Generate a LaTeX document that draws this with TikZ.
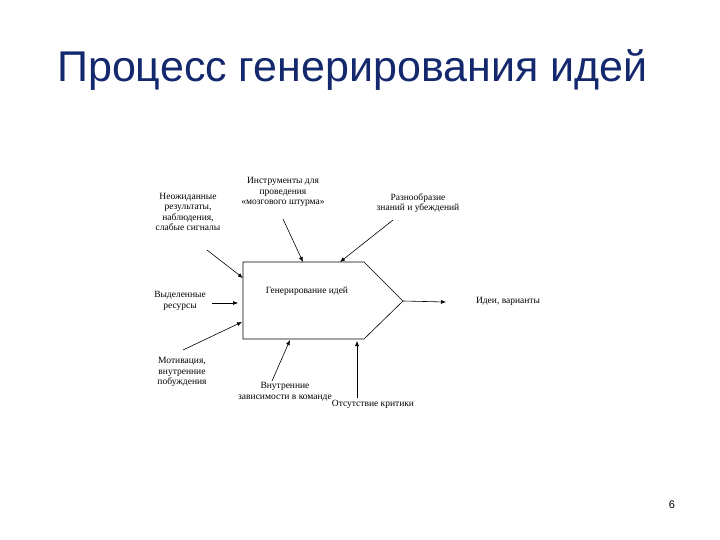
\documentclass[tikz,border=0pt]{standalone}
\usepackage{fontspec}
\setmainfont{Liberation Serif}
\newfontfamily\titlefont{Liberation Sans}
\usetikzlibrary{arrows.meta}
\definecolor{titleblue}{RGB}{20,40,110}
\begin{document}
\begin{tikzpicture}[x=1pt,y=-1pt,
  lbl/.style={font=\fontsize{9.5}{10.5}\selectfont,align=center,inner sep=0pt},
  arr/.style={-{Latex[length=5pt,width=4pt]},line width=0.6pt}]
\useasboundingbox (0,0) rectangle (720,540);
\node[font=\titlefont\fontsize{43}{50}\selectfont,text=titleblue,anchor=west,inner sep=0pt] (title) at (57,70) {Процесс генерирования идей};
\node[font=\titlefont\fontsize{11}{13}\selectfont] (num) at (672,505) {6};
\draw[line width=0.6pt] (243,262) -- (364,262) -- (403,301) -- (364,339) -- (243,339) -- cycle;
\node[lbl] (box) at (307,291) {Генерирование идей};
\coordinate (tip) at (403,301);
\node[lbl] (a) at (188,212) {Неожиданные\\результаты,\\наблюдения,\\слабые сигналы};
\node[lbl] (b) at (283,192) {Инструменты для\\проведения\\«мозгового штурма»};
\node[lbl] (c) at (418,203) {Разнообразие\\знаний и убеждений};
\node[lbl] (d) at (180,301) {Выделенные\\ресурсы};
\node[lbl] (e) at (182,372) {Мотивация,\\внутренние\\побуждения};
\node[lbl] (f) at (285,392) {Внутренние\\зависимости в команде};
\node[lbl] (g) at (373,404) {Отсутствие критики};
\node[lbl] (h) at (508,301) {Идеи, варианты};
\coordinate (a1) at (207,250); \coordinate (a2) at (243,278);
\coordinate (b1) at (283,219); \coordinate (b2) at (303,262);
\coordinate (c1) at (393,220); \coordinate (c2) at (340,262);
\coordinate (d1) at (212,303); \coordinate (d2) at (238,303);
\coordinate (e1) at (183,350); \coordinate (e2) at (242,322);
\coordinate (f1) at (272,381); \coordinate (f2) at (290,340);
\coordinate (g1) at (357,398); \coordinate (g2) at (357,341);
\coordinate (h2) at (446,302);
\draw[arr] (a1) -- (a2);
\draw[arr] (b1) -- (b2);
\draw[arr] (c1) -- (c2);
\draw[arr] (d1) -- (d2);
\draw[arr] (e1) -- (e2);
\draw[arr] (f1) -- (f2);
\draw[arr] (g1) -- (g2);
\draw[arr] (tip) -- (h2);
\end{tikzpicture}
\end{document}
